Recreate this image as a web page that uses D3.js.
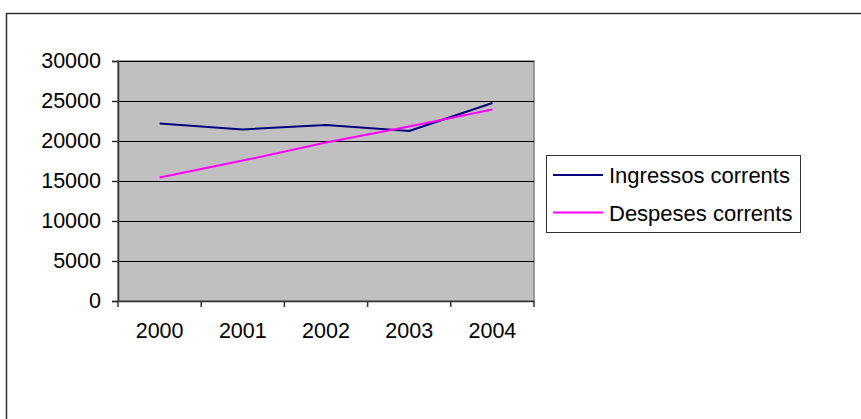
<!DOCTYPE html>
<html>
<head>
<meta charset="utf-8">
<script src="https://cdn.jsdelivr.net/npm/d3@7/dist/d3.min.js"></script>
<style>
  html, body { margin: 0; padding: 0; background: #fff; }
  svg { display: block; font-family: "Liberation Sans", Arial, sans-serif; }
</style>
</head>
<body>
<svg id="chart" width="861" height="419"></svg>
<script>
// Years and yearly totals
const years = ["2000", "2001", "2002", "2003", "2004"];
const ingressos = [22200, 21450, 22000, 21250, 24750];
const despeses = [15450, 17550, 19800, 21800, 23950];
const yTicks = [0, 5000, 10000, 15000, 20000, 25000, 30000];
const seriesNames = ["Ingressos corrents", "Despeses corrents"];
const seriesColors = ["#000080", "#FF00FF"];

const svg = d3.select("#chart");

// Outer chart frame (open on the right and bottom edges)
svg.append("path")
  .attr("d", "M6.5,419 V13.5 H861")
  .attr("fill", "none")
  .attr("stroke", "#333")
  .attr("stroke-width", 1.5);

const plot = { left: 118, right: 534, top: 61, bottom: 301 };

const x = d3.scaleBand().domain(years).range([plot.left, plot.right]).padding(0);
const y = d3.scaleLinear().domain([0, 30000]).range([plot.bottom, plot.top]);

// Plot background
svg.append("rect")
  .attr("x", plot.left).attr("y", plot.top)
  .attr("width", plot.right - plot.left).attr("height", plot.bottom - plot.top)
  .attr("fill", "#C0C0C0")
  .attr("stroke", "#808080")
  .attr("stroke-width", 1.5);

// Horizontal gridlines
svg.append("g")
  .selectAll("line")
  .data(yTicks.filter(d => d > 0))
  .join("line")
  .attr("x1", plot.left).attr("x2", plot.right)
  .attr("y1", d => Math.round(y(d)) + 0.5).attr("y2", d => Math.round(y(d)) + 0.5)
  .attr("stroke", "#000")
  .attr("stroke-width", 1);

// Y axis
const yAxis = svg.append("g")
  .attr("transform", `translate(${plot.left},0)`)
  .call(d3.axisLeft(y).tickValues(yTicks).tickSize(6).tickPadding(11).tickFormat(d3.format("d")));
yAxis.select(".domain").attr("stroke", "#333").attr("stroke-width", 1.5);
yAxis.selectAll(".tick line").attr("stroke", "#333").attr("stroke-width", 1.5);
yAxis.selectAll("text").attr("font-size", 21.5).attr("fill", "#000")
  .attr("font-family", "Liberation Sans, Arial, sans-serif");

// X axis: ticks sit on the category boundaries
const xAxis = svg.append("g")
  .attr("transform", `translate(0,${plot.bottom})`)
  .call(d3.axisBottom(x).tickSize(0).tickPadding(22));
xAxis.select(".domain").attr("stroke", "#333").attr("stroke-width", 1.5);
xAxis.selectAll("text").attr("font-size", 21.5).attr("fill", "#000")
  .attr("font-family", "Liberation Sans, Arial, sans-serif");
xAxis.selectAll(".boundary")
  .data(years.concat(["end"]))
  .join("line")
  .attr("class", "boundary")
  .attr("x1", (d, i) => plot.left + i * x.bandwidth())
  .attr("x2", (d, i) => plot.left + i * x.bandwidth())
  .attr("y1", 0).attr("y2", 6)
  .attr("stroke", "#333").attr("stroke-width", 1.5);

// Series lines
const line = d3.line()
  .x((d, i) => x(years[i]) + x.bandwidth() / 2)
  .y(d => y(d));

[ingressos, despeses].forEach((vals, k) => {
  svg.append("path")
    .datum(vals)
    .attr("d", line)
    .attr("fill", "none")
    .attr("stroke", seriesColors[k])
    .attr("stroke-width", 2);
});

// Legend
const legend = svg.append("g");
legend.append("rect")
  .attr("x", 546.5).attr("y", 155.5)
  .attr("width", 254).attr("height", 77)
  .attr("fill", "#fff")
  .attr("stroke", "#333")
  .attr("stroke-width", 1);

const rows = legend.selectAll("g.row")
  .data(seriesNames)
  .join("g")
  .attr("class", "row")
  .attr("transform", (d, i) => `translate(0,${175 + i * 37.5})`);
rows.append("line")
  .attr("x1", 553).attr("x2", 603)
  .attr("y1", 0).attr("y2", 0)
  .attr("stroke", (d, i) => seriesColors[i])
  .attr("stroke-width", 2);
rows.append("text")
  .attr("x", 609).attr("y", 8)
  .attr("font-size", 22)
  .attr("fill", "#000")
  .text(d => d);
</script>
</body>
</html>
